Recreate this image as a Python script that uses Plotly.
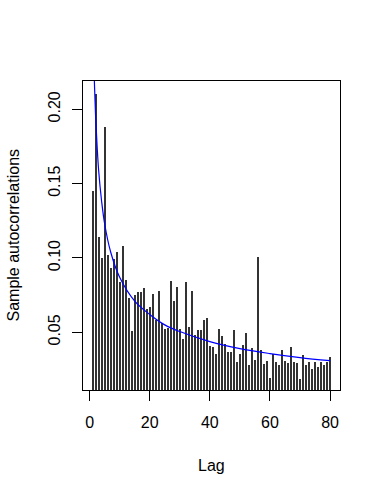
import plotly.graph_objects as go

lags = list(range(1, 81))
acf_values = [
    0.145, 0.210, 0.114, 0.100, 0.188, 0.102, 0.093, 0.099, 0.104, 0.084,
    0.108, 0.085, 0.073, 0.051, 0.075, 0.077, 0.077, 0.080, 0.066, 0.067,
    0.076, 0.058, 0.0776, 0.056, 0.0524, 0.0529, 0.0845, 0.071, 0.0805, 0.052,
    0.0457, 0.0837, 0.0534, 0.078, 0.0484, 0.0515, 0.0515, 0.0585, 0.0596, 0.041,
    0.0403, 0.0354, 0.052, 0.0477, 0.0424, 0.0367, 0.0367, 0.0515, 0.030, 0.0354,
    0.0412, 0.0493, 0.0280, 0.0394, 0.0314, 0.1005, 0.0381, 0.0287, 0.0305, 0.0192,
    0.0354, 0.030, 0.0278, 0.0381, 0.0305, 0.0295, 0.0399, 0.030, 0.0291, 0.0188,
    0.0345, 0.0278, 0.030, 0.0251, 0.030, 0.0264, 0.030, 0.0278, 0.030, 0.0336,
]

curve_lags = [1.0, 1.3, 1.6, 2, 2.5, 3, 4, 5, 7, 10, 15, 20, 25, 30, 40, 50, 60, 70, 80]
curve_values = [0.276, 0.242, 0.218, 0.195, 0.175, 0.159, 0.138, 0.123, 0.104,
                0.087, 0.071, 0.062, 0.055, 0.0505, 0.0437, 0.039, 0.0357, 0.033, 0.0309]

x_ticks = [0, 20, 40, 60, 80]
y_ticks = [0.05, 0.10, 0.15, 0.20]
y_tick_labels = ["0.05", "0.10", "0.15", "0.20"]

FONT = "Liberation Sans, Arial, Helvetica, sans-serif"

fig = go.Figure()
fig.add_trace(go.Bar(x=lags, y=acf_values, base=0, width=0.33,
                     marker=dict(color="#333333", line=dict(width=0)),
                     showlegend=False, hoverinfo="x+y"))
fig.add_trace(go.Scatter(x=curve_lags, y=curve_values, mode="lines",
                         line=dict(color="#0000ff", width=1.2, shape="spline"),
                         showlegend=False))

fig.update_layout(
    width=382, height=494,
    margin=dict(l=83, r=42, t=81, b=104),
    paper_bgcolor="white", plot_bgcolor="white",
    font=dict(family=FONT, size=16, color="black"),
    bargap=0,
    xaxis=dict(range=[-2.2, 83.3], tickvals=x_ticks, ticks="outside", ticklen=10,
               tickwidth=1, tickcolor="black", showline=True, mirror=True,
               linecolor="black", linewidth=1, showgrid=False, zeroline=False,
               ticklabelstandoff=8, automargin=False),
    yaxis=dict(range=[0.0112, 0.219], tickvals=y_ticks, ticktext=y_tick_labels,
               ticks="outside", ticklen=10, tickwidth=1, tickcolor="black",
               showline=True, mirror=True, linecolor="black", linewidth=1,
               showgrid=False, zeroline=False, tickangle=-90, ticklabelstandoff=6,
               automargin=False),
    annotations=[
        dict(text="Lag", xref="paper", yref="paper", x=0.5, y=0, yshift=-75,
             showarrow=False, xanchor="center", yanchor="middle",
             font=dict(size=16)),
        dict(text="Sample autocorrelations", xref="paper", yref="paper", x=0, y=0.5,
             xshift=-70, showarrow=False, textangle=-90, xanchor="center",
             yanchor="middle", font=dict(size=16)),
    ],
)

fig.write_html("out.html", config={"displayModeBar": False},
               post_script="document.body.style.margin='0';document.body.style.padding='0';")
